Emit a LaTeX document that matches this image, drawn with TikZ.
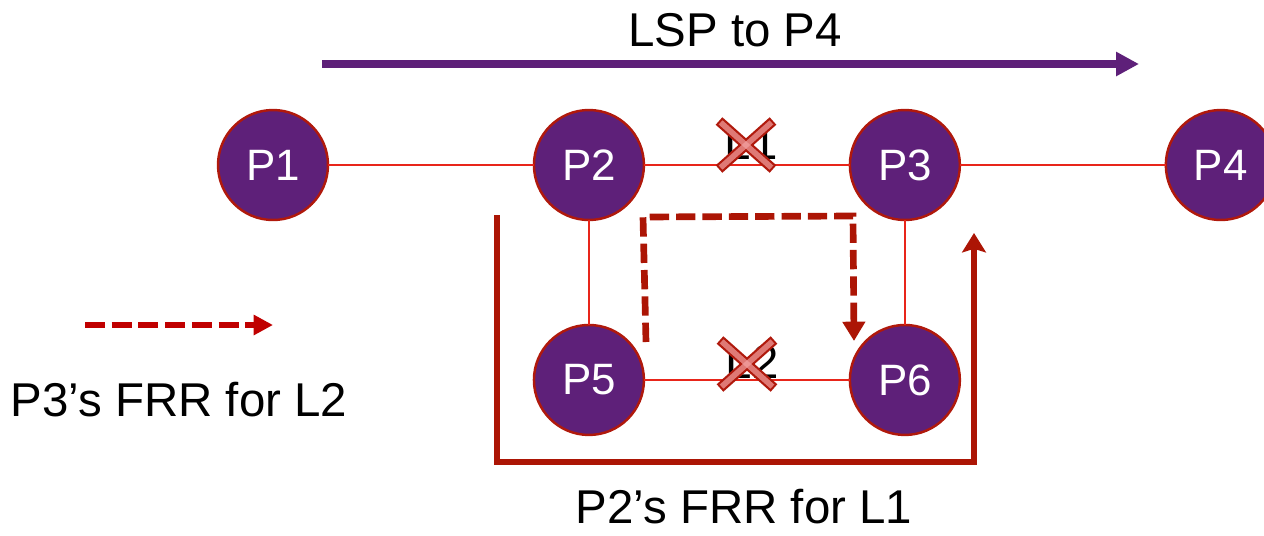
\documentclass[tikz,border=0pt]{standalone}
\usepackage{fontspec}
\setmainfont{Liberation Sans}
\usepackage{xcolor}
\usepackage{tikz}
\usetikzlibrary{arrows.meta,positioning}
\definecolor{plum}{HTML}{5E2079}
\definecolor{rim}{HTML}{B0190C}
\definecolor{wire}{HTML}{E8251A}
\definecolor{frr}{HTML}{AC1505}
\definecolor{keyred}{HTML}{C00000}
\definecolor{blush}{HTML}{F4A3A3}

\begin{document}
\begin{tikzpicture}[
  x=0.02cm, y=-0.02cm,
  router/.style={circle, draw=rim, line width=1.4pt, fill=plum, minimum size=2.2cm, inner sep=0pt, outer sep=0pt, text=white, font=\fontsize{25}{30}\selectfont},
  link/.style={draw=wire, line width=0.9pt},
  lsp/.style={-{Triangle[length=13pt,width=13pt]}, draw=plum, line width=4pt},
  backup/.style={-{Stealth[length=11pt,width=13.5pt,inset=2pt]}, draw=frr, line width=3.2pt},
  detour/.style={-{Triangle[length=11pt,width=12.5pt]}, draw=frr, line width=3.8pt, dash pattern=on 11pt off 4pt},
  keyarrow/.style={-{Triangle[length=11pt,width=11pt]}, draw=keyred, line width=3.4pt, dash pattern=on 11.4pt off 3.8pt},
  cut/.style={line width=5.7pt, draw=rim},
  cutfill/.style={line width=3.2pt, draw=blush, opacity=0.7, shorten <=1.2pt, shorten >=1.2pt},
  lbl/.style={font=\fontsize{27}{32}\selectfont, inner sep=1pt}
]
\useasboundingbox (0,0) rectangle (1264,535);

% routers
\node[router] (p1) at (273,165) {P1};
\node[router, right=4.12cm of p1] (p2) {P2};
\node[router, right=4.12cm of p2] (p3) {P3};
\node[router, right=4.12cm of p3] (p4) {P4};
\node[router, below=2.1cm of p2] (p5) {P5};
\node[router, below=2.1cm of p3] (p6) {P6};

\draw[link] (p1) -- (p2);
\draw[link] (p2) -- (p3);
\draw[link] (p3) -- (p4);
\draw[link] (p2) -- (p5);
\draw[link] (p3) -- (p6);
\draw[link] (p5) -- (p6);

% failed links
\node[lbl] (l1) at (751,143) {L1};
\node[lbl] (l2) at (752,362) {L2};
\foreach \m in {l1,l2} {
  \draw[cut] ([shift={(-32,-22)}]\m.center) -- ([shift={(22,26)}]\m.center);
  \draw[cut] ([shift={(22,-22)}]\m.center) -- ([shift={(-32,26)}]\m.center);
  \draw[cutfill] ([shift={(-32,-22)}]\m.center) -- ([shift={(22,26)}]\m.center);
  \draw[cutfill] ([shift={(22,-22)}]\m.center) -- ([shift={(-32,26)}]\m.center);
}

% LSP
\node[lbl] (lsp) at (735,30) {LSP to P4};
\coordinate (s0) at (322,64);
\coordinate (s1) at (1139,64);
\draw[lsp] (s0) -- (s1);

% P3's FRR
\coordinate (d0) at (646,342);
\coordinate (d1) at (643,217);
\coordinate (d2) at (853,216);
\coordinate (d3) at (854,341);
\draw[detour] (d0) -- (d1) -- (d2) -- (d3);

% P2's FRR
\coordinate (b0) at (497,215);
\coordinate (b1) at (497,462);
\coordinate (b2) at (974,462);
\coordinate (b3) at (974,233);
\draw[backup] (b0) -- (b1) -- (b2) -- (b3);
\node[lbl] (note) at (744,507) {P2’s FRR for L1};

% legend
\coordinate (k0) at (85,325);
\coordinate (k1) at (273,325);
\draw[keyarrow] (k0) -- (k1);
\node[lbl] (key) at (179,400) {P3’s FRR for L2};
\end{tikzpicture}
\end{document}
